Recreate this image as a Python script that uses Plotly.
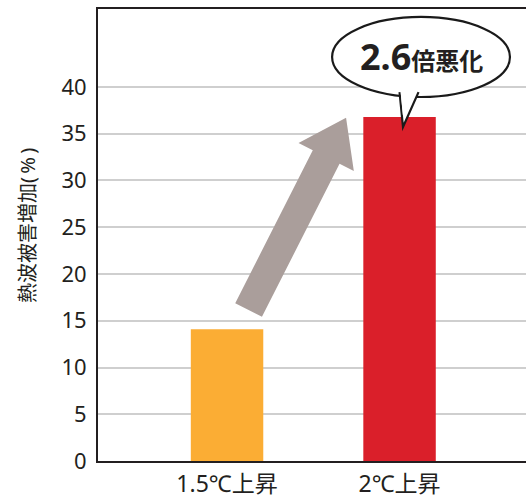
import math
import plotly.graph_objects as go

categories = ["1.5℃上昇", "2℃上昇"]
values = [14.1, 36.8]
bar_colors = ["#FBAD34", "#DA1F2A"]
y_ticks = [0, 5, 10, 15, 20, 25, 30, 35, 40]
y_title = "熱波被害増加(\u2009%\u2009)"
callout_num = "2.6"
callout_text = "倍悪化"

FONT = "Noto Sans, Noto Sans CJK JP, sans-serif"
DARK = "#231f20"

W, H = 526, 499
ML, MR, MT, MB = 98, 0, 9, 38
X_RANGE = [-0.748, 1.733]
Y_RANGE = [0, 48.34]

fig = go.Figure()
fig.add_trace(go.Bar(
    x=categories, y=values, marker=dict(color=bar_colors, line=dict(width=0)),
    width=0.42, showlegend=False, hoverinfo="skip",
))

fig.update_layout(
    width=W, height=H,
    margin=dict(l=ML, r=MR, t=MT, b=MB),
    paper_bgcolor="white", plot_bgcolor="white",
    font=dict(family=FONT, color=DARK),
    xaxis=dict(
        type="category", range=X_RANGE, automargin=False,
        showline=True, linecolor=DARK, linewidth=2, mirror=True,
        showgrid=False, ticks="", tickfont=dict(size=23, color=DARK),
        ticklabelstandoff=1,
    ),
    yaxis=dict(
        range=Y_RANGE, tickvals=y_ticks, automargin=False,
        showline=True, linecolor=DARK, linewidth=2,
        showgrid=True, gridcolor="#cfcfcf", gridwidth=1.5,
        zeroline=False, ticks="", tickfont=dict(size=22, color=DARK),
        ticklabelstandoff=5,
    ),
)

# y-axis title
fig.add_annotation(
    xref="paper", yref="paper", x=-0.166, y=0.522, text=y_title,
    textangle=-90, showarrow=False, font=dict(size=20, color=DARK),
    xanchor="center", yanchor="middle",
)

# gray arrow (polygon built in pixel space, converted to data coordinates)
kx = (W - ML - MR) / (X_RANGE[1] - X_RANGE[0])   # px per x unit
ky = (H - MT - MB) / (Y_RANGE[1] - Y_RANGE[0])   # px per y unit
tail = (0.125, 16.15)
tip = (0.69, 36.7)
dx = (tip[0] - tail[0]) * kx
dy = (tip[1] - tail[1]) * ky
L = math.hypot(dx, dy)
ux, uy = dx / L, dy / L
nx, ny = uy, -ux
shaft_hw, head_hw, head_len = 15, 31, 44
tpx = (tail[0] * kx, tail[1] * ky)
ppx = (tip[0] * kx, tip[1] * ky)
bpx = (ppx[0] - head_len * ux, ppx[1] - head_len * uy)
pts = [
    (tpx[0] + shaft_hw * nx, tpx[1] + shaft_hw * ny),
    (bpx[0] + shaft_hw * nx, bpx[1] + shaft_hw * ny),
    (bpx[0] + head_hw * nx, bpx[1] + head_hw * ny),
    ppx,
    (bpx[0] - head_hw * nx, bpx[1] - head_hw * ny),
    (bpx[0] - shaft_hw * nx, bpx[1] - shaft_hw * ny),
    (tpx[0] - shaft_hw * nx, tpx[1] - shaft_hw * ny),
]
path = "M " + " L ".join(f"{px / kx:.4f},{py / ky:.4f}" for px, py in pts) + " Z"
fig.add_shape(type="path", xref="x", yref="y", path=path,
              line=dict(width=0), fillcolor="#AA9E9B", layer="above")

# speech bubble
fig.add_shape(type="circle", xref="x", yref="y",
              x0=0.609, x1=1.64, y0=38.93, y1=47.49,
              line=dict(color="#1a1a1a", width=2.2), fillcolor="white", layer="above")
fig.add_shape(type="path", xref="x", yref="y",
              path="M 1.0,39.45 L 1.02,35.72 L 1.11,39.45",
              line=dict(color="#1a1a1a", width=2.2), fillcolor="white", layer="above")
fig.add_shape(type="path", xref="x", yref="y",
              path="M 1.006,39.5 L 1.019,37.0 L 1.1,39.5 Z",
              line=dict(color="white", width=0), fillcolor="white", layer="above")
fig.add_annotation(
    xref="x", yref="y", x=1.125, y=43.3,
    text=f"<b>{callout_num}</b><b><span style='font-size:24px'>{callout_text}</span></b>",
    showarrow=False, font=dict(size=36, color="#231f20"),
    xanchor="center", yanchor="middle",
)

fig.write_html("out.html", config={"displayModeBar": False},
               post_script="document.body.style.margin='0';document.body.style.overflow='hidden';")
